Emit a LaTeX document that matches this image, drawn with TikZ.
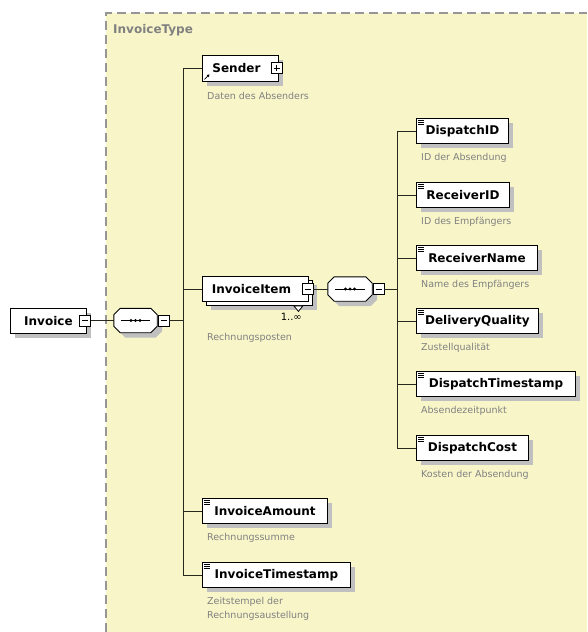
\documentclass[tikz,border=0pt]{standalone}
\usepackage{fontspec}
\setmainfont{DejaVu Sans}
\usetikzlibrary{shadows,arrows.meta,calc}

\definecolor{paneyellow}{RGB}{248,246,201}
\definecolor{shadowgray}{RGB}{192,192,192}
\definecolor{desctext}{RGB}{128,128,128}
\definecolor{framegray}{RGB}{150,150,150}
\definecolor{linecol}{RGB}{40,40,30}

\tikzset{
  boxshadow/.style={general shadow={fill=shadowgray, shadow xshift=5pt, shadow yshift=-5pt}},
  elemplain/.style={draw=black, fill=white, line width=0.9pt, anchor=north west,
    minimum height=25pt, inner sep=0pt, font=\fontsize{12}{14}\selectfont\bfseries},
  elembox/.style={elemplain, boxshadow},
  desc/.style={anchor=west, inner sep=0pt, text=desctext, font=\fontsize{9.5}{11.5}\selectfont},
  tog/.style={draw=black, fill=white, minimum size=11pt, inner sep=0pt, line width=0.8pt},
  minus/.style={tog, path picture={\draw[line width=0.8pt]
      ([xshift=2.5pt]path picture bounding box.west) -- ([xshift=-2.5pt]path picture bounding box.east);}},
  plus/.style={tog, path picture={\draw[line width=0.8pt]
      ([xshift=2.5pt]path picture bounding box.west) -- ([xshift=-2.5pt]path picture bounding box.east)
      ([yshift=2.5pt]path picture bounding box.south) -- ([yshift=-2.5pt]path picture bounding box.north);}},
  conn/.style={draw=linecol, line width=0.9pt},
  seqbox/.style={minimum width=43pt, minimum height=24pt, inner sep=0pt},
}

% three short bars in the top left corner of a simple element
\newcommand\elemicon[1]{%
  \foreach \d in {2.5,4.3,6.1}{\draw[line width=0.6pt] ([xshift=2pt,yshift=-\d pt]#1.north west) -- ++(5.5pt,0pt);}}

% octagonal sequence compositor with its dotted bar
\newcommand\seqsym[1]{%
  \draw[line width=0.9pt, fill=white, boxshadow]
    ([xshift=6.5pt]#1.north west) -- ([xshift=-6.5pt]#1.north east) -- ([yshift=-6.5pt]#1.north east)
    -- ([yshift=6.5pt]#1.south east) -- ([xshift=-6.5pt]#1.south east) -- ([xshift=6.5pt]#1.south west)
    -- ([yshift=6.5pt]#1.south west) -- ([yshift=-6.5pt]#1.north west) -- cycle;
  \draw[line width=0.8pt] ([xshift=7pt]#1.west) -- ([xshift=-7pt]#1.east);
  \foreach \dx in {-4.5,0,4.5}{\fill ([xshift=\dx pt]#1.center) circle (1.7pt);}}

\begin{document}
\begin{tikzpicture}[x=1pt, y=-1pt]
  \useasboundingbox (0,0) rectangle (587,632);
  \fill[white] (0,0) rectangle (587,632);

  % complex type pane
  \fill[paneyellow] (106,13) rectangle (587,632);
  \draw[framegray, line width=1.5pt, dash pattern=on 9pt off 5pt] (106,632) -- (106,13) -- (587,13);
  \node[anchor=west, inner sep=0pt, text=framegray!85!black, font=\fontsize{12}{14}\selectfont\bfseries]
    (typename) at (113,30) {InvoiceType};

  % root element and its sequence
  \node[elembox, minimum width=76pt] (invoice) at (10,308) {Invoice};
  \node[minus] (tinvoice) at (85,320.5) {};
  \node[seqbox] (seqa) at (135.5,320.5) {};
  \seqsym{seqa}
  \node[minus] (tseqa) at (163.5,320.5) {};
  \coordinate (busa) at (183,320.5);

  % children of the first sequence
  \node[elembox, minimum width=76pt, minimum height=26pt] (sender) at (202,55) {\hspace*{-8pt}Sender};
  \node[plus] (tsender) at (276.5,68) {};
  \draw[line width=0.8pt, -{Triangle[length=2.5pt,width=3pt]}]
    ([xshift=2.5pt,yshift=2.5pt]sender.south west) -- ++(5pt,5pt);

  \node[elembox, minimum width=106pt] (itemback) at (206,280) {};
  \node[elemplain, minimum width=106pt] (iitem) at (202,276) {\hspace*{-8pt}InvoiceItem};
  \draw[line width=0.8pt, fill=white] ([xshift=-19pt]itemback.south east) -- ([xshift=-10pt]itemback.south east)
    -- ([xshift=-14.5pt,yshift=-5.5pt]itemback.south east) -- cycle;
  \node[minus] (titem) at (307.5,289) {};
  \node[anchor=east, inner sep=0pt, font=\fontsize{10}{12}\selectfont] (occ) at (302,317) {1..∞};

  \node[elembox, minimum width=125pt] (iamount) at (202,498) {InvoiceAmount};
  \elemicon{iamount}
  \node[elembox, minimum width=148pt] (itimestamp) at (202,562) {InvoiceTimestamp};
  \elemicon{itimestamp}

  % sequence inside InvoiceItem
  \node[seqbox, minimum width=44pt] (seqb) at (350,289) {};
  \seqsym{seqb}
  \node[minus] (tseqb) at (378.5,289) {};
  \coordinate (busb) at (397,289);

  \node[elembox, minimum width=92pt] (dispatchid) at (416,118) {DispatchID};
  \elemicon{dispatchid}
  \node[elembox, minimum width=93pt] (receiverid) at (416,182) {ReceiverID};
  \elemicon{receiverid}
  \node[elembox, minimum width=121pt] (receivername) at (416,245) {ReceiverName};
  \elemicon{receivername}
  \node[elembox, minimum width=122pt] (delivery) at (416,308) {DeliveryQuality};
  \elemicon{delivery}
  \node[elembox, minimum width=159pt] (dtimestamp) at (416,371) {DispatchTimestamp};
  \elemicon{dtimestamp}
  \node[elembox, minimum width=112pt] (dcost) at (416,435) {DispatchCost};
  \elemicon{dcost}

  % annotations
  \node[desc] (dsender) at (207,96) {Daten des Absenders};
  \node[desc] (ditem) at (207,338) {Rechnungsposten};
  \node[desc] (damount) at (207,538) {Rechnungssumme};
  \node[desc, align=left, font=\fontsize{9.5}{14}\selectfont] (dtstamp) at (207,609) {Zeitstempel der\\Rechnungsaustellung};
  \node[desc] (ddispatchid) at (421,158) {ID der Absendung};
  \node[desc] (dreceiverid) at (421,222) {ID des Empfängers};
  \node[desc] (dreceivername) at (421,285) {Name des Empfängers};
  \node[desc] (ddelivery) at (421,348) {Zustellqualität};
  \node[desc] (ddtimestamp) at (421,411) {Absendezeitpunkt};
  \node[desc] (ddcost) at (421,475) {Kosten der Absendung};

  % connectors
  \draw[conn] (tinvoice.east) -- (seqa.west);
  \draw[conn] (tseqa.east) -- (busa);
  \draw[conn] (busa |- sender.west) -- (busa |- itimestamp.west);
  \foreach \c in {sender, iitem, iamount, itimestamp}{\draw[conn] (busa |- \c.west) -- (\c.west);}
  \draw[conn] (titem.east) -- (seqb.west);
  \draw[conn] (tseqb.east) -- (busb);
  \draw[conn] (busb |- dispatchid.west) -- (busb |- dcost.west);
  \foreach \c in {dispatchid, receiverid, receivername, delivery, dtimestamp, dcost}{\draw[conn] (busb |- \c.west) -- (\c.west);}
\end{tikzpicture}
\end{document}
